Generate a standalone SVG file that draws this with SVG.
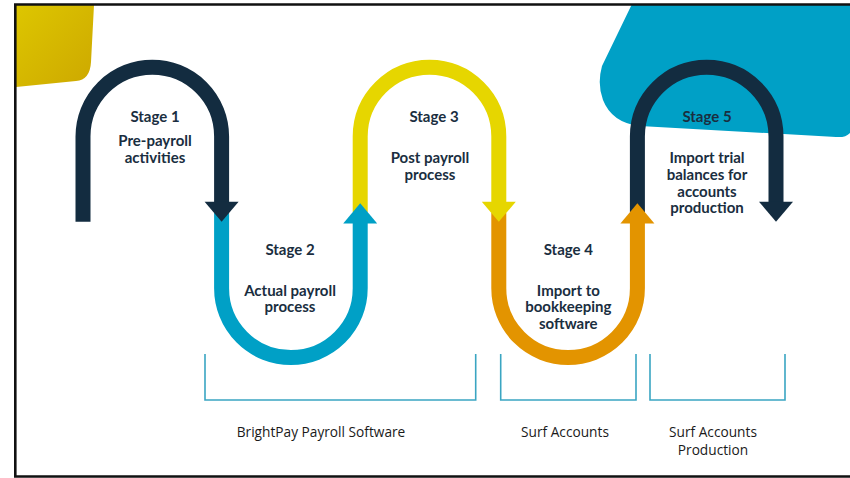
<svg xmlns="http://www.w3.org/2000/svg" width="850" height="478" viewBox="0 0 850 478">
  <defs>
    <linearGradient id="yg" x1="0" y1="0" x2="1" y2="1">
      <stop offset="0" stop-color="#ddc600"/>
      <stop offset="1" stop-color="#cda800"/>
    </linearGradient>
    <style>
      .leg{fill:none;stroke-width:15;stroke-linecap:butt}
      .navy{stroke:#132c40}
      .blue{stroke:#00a0c6}
      .yel{stroke:#e6d600}
      .org{stroke:#e39400}
      .st{font-family:Lato,"Open Sans",sans-serif;font-weight:bold;font-size:15px;fill:#1a2e40;text-anchor:middle}
      .lb{font-family:"Open Sans",Lato,sans-serif;font-size:13.7px;fill:#1a1a1a;text-anchor:middle}
      .br{fill:none;stroke:#3aa5c2;stroke-width:1.6}
    </style>
  </defs>
  <rect width="850" height="478" fill="#ffffff"/>
  <path d="M16 5 L94 5 L91 62 Q90 80 76 81 L16 87 Z" fill="url(#yg)"/>
  <path d="M632 4 L852 4 L852 130 Q848 138 836 137 L640 126 Q612 123 603 100 Q597 84 602 66 Z" fill="#00a0c6"/>
  <path d="M850 4.5 L15.3 4.5 L15.3 476.5 L850 476.5" fill="none" stroke="#111" stroke-width="2.6"/>

  <g id="stage5">
    <path class="leg navy" d="M637.4 212 L637.4 136.5 A69.3 69.3 0 0 1 776 136.5 L776 203"/>
    <polygon points="759,201.7 793,201.7 776,221.7" fill="#132c40"/>
    <text class="st" x="707" y="121.7">Stage 5</text>
    <text class="st" x="707" y="163.3">Import trial</text>
    <text class="st" x="707" y="180">balances for</text>
    <text class="st" x="707" y="196.7">accounts</text>
    <text class="st" x="707" y="213.3">production</text>
  </g>
  <g id="stage4">
    <path class="leg org" d="M498.8 213 L498.8 288.3 A69.3 69.3 0 0 0 637.4 288.3 L637.4 222"/>
    <polygon points="620.4,223.5 654.4,223.5 637.4,203.3" fill="#e39400"/>
    <text class="st" x="568.3" y="255">Stage 4</text>
    <text class="st" x="568.3" y="295.7">Import to</text>
    <text class="st" x="568.3" y="312.3">bookkeeping</text>
    <text class="st" x="568.3" y="329">software</text>
  </g>
  <g id="stage3">
    <path class="leg yel" d="M360.2 212 L360.2 136.5 A69.3 69.3 0 0 1 498.8 136.5 L498.8 203"/>
    <polygon points="481.8,201.7 515.8,201.7 498.8,221.7" fill="#e6d600"/>
    <text class="st" x="434" y="121.7">Stage 3</text>
    <text class="st" x="430" y="163.3">Post payroll</text>
    <text class="st" x="430" y="180">process</text>
  </g>
  <g id="stage2">
    <path class="leg blue" d="M221.6 213 L221.6 288.3 A69.3 69.3 0 0 0 360.2 288.3 L360.2 222"/>
    <polygon points="343.2,223.5 377.2,223.5 360.2,203.3" fill="#00a0c6"/>
    <text class="st" x="290" y="255">Stage 2</text>
    <text class="st" x="290" y="295.7">Actual payroll</text>
    <text class="st" x="290" y="312.3">process</text>
  </g>
  <g id="stage1">
    <path class="leg navy" d="M83 221.7 L83 136.5 A69.3 69.3 0 0 1 221.6 136.5 L221.6 203"/>
    <polygon points="204.6,201.7 238.6,201.7 221.6,221.7" fill="#132c40"/>
    <text class="st" x="155" y="121.7">Stage 1</text>
    <text class="st" x="155" y="146">Pre-payroll</text>
    <text class="st" x="155" y="163.3">activities</text>
  </g>

  <g id="connectors">
    <path class="br" d="M205 354 L205 400 L475.7 400 L475.7 354"/>
    <path class="br" d="M500.7 354 L500.7 400 L636 400 L636 354"/>
    <path class="br" d="M650 354 L650 400 L785 400 L785 354"/>
  </g>

  <g id="labels">
    <text class="lb" x="321" y="437">BrightPay Payroll Software</text>
    <text class="lb" x="565" y="437">Surf Accounts</text>
    <text class="lb" x="713" y="437">Surf Accounts</text>
    <text class="lb" x="713" y="455">Production</text>
  </g>
</svg>
